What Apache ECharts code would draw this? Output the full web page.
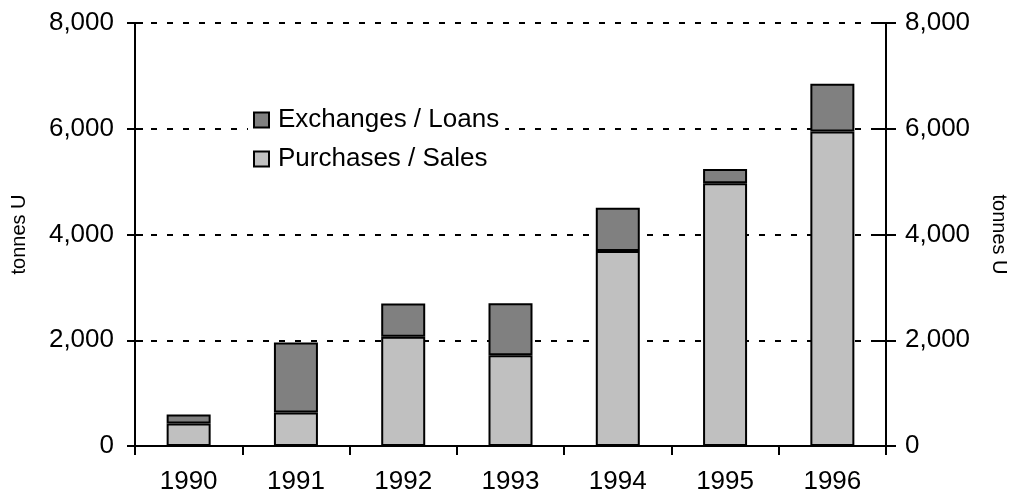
<!DOCTYPE html>
<html>
<head>
<meta charset="utf-8">
<script src="https://cdn.jsdelivr.net/npm/echarts@6/dist/echarts.min.js"></script>
<style>
html,body{margin:0;padding:0;background:#fff;}
#chart{width:1011px;height:495px;}
</style>
</head>
<body>
<div id="chart"></div>
<script>
const years = ['1990','1991','1992','1993','1994','1995','1996'];
const purchasesSales = [424, 633, 2064, 1718, 3687, 4970, 5947];
const exchangesLoans = [171, 1325, 633, 982, 821, 270, 903];
const yTicks = [0, 2000, 4000, 6000, 8000];
const axisTitle = 'tonnes U';

const FONT = '"Liberation Sans", Arial, sans-serif';
const fmt = v => v.toLocaleString('en-US');
const yMin = yTicks[0], yMax = yTicks[yTicks.length - 1], yStep = yTicks[1] - yTicks[0];

const chart = echarts.init(document.getElementById('chart'), null, {renderer: 'canvas'});
const baseY = {
  type: 'value', min: yMin, max: yMax, interval: yStep
};
chart.setOption({
  animation: false,
  backgroundColor: '#fff',
  textStyle: {fontFamily: FONT},
  grid: {left: 135, right: 125, top: 23, bottom: 49, containLabel: false, outerBoundsMode: 'none'},
  legend: {
    orient: 'vertical',
    left: 248, top: 103,
    data: ['Exchanges / Loans', 'Purchases / Sales'],
    itemWidth: 15, itemHeight: 15, itemGap: 13,
    icon: 'rect',
    backgroundColor: '#fff',
    padding: [4, 6, 4, 5],
    textStyle: {fontFamily: FONT, fontSize: 26, color: '#000', padding: [0, 0, 0, 4]},
    itemStyle: {borderColor: '#000', borderWidth: 2}
  },
  xAxis: {
    type: 'category',
    data: years,
    boundaryGap: true,
    axisLine: {lineStyle: {color: '#000', width: 2}},
    axisTick: {show: true, length: 9, lineStyle: {color: '#000', width: 2}},
    axisLabel: {fontFamily: FONT, fontSize: 26, color: '#000', margin: 23}
  },
  yAxis: [
    Object.assign({}, baseY, {
      position: 'left',
      name: axisTitle, nameLocation: 'middle', nameGap: 106, nameRotate: 90,
      nameTextStyle: {fontFamily: FONT, fontSize: 20, color: '#000'},
      axisLine: {show: true, lineStyle: {color: '#000', width: 2}},
      axisTick: {show: true, length: 8, lineStyle: {color: '#000', width: 2}},
      axisLabel: {fontFamily: FONT, fontSize: 26, color: '#000', margin: 21, formatter: fmt},
      splitLine: {show: true, lineStyle: {color: '#000', width: 2, type: [6, 10]}}
    }),
    Object.assign({}, baseY, {
      position: 'right',
      name: axisTitle, nameLocation: 'middle', nameGap: 103, nameRotate: -90,
      nameTextStyle: {fontFamily: FONT, fontSize: 20, color: '#000'},
      axisLine: {show: true, lineStyle: {color: '#000', width: 2}},
      axisTick: {show: true, length: 10, lineStyle: {color: '#000', width: 2}},
      axisLabel: {fontFamily: FONT, fontSize: 26, color: '#000', margin: 19, formatter: fmt},
      splitLine: {show: false}
    }),
    Object.assign({}, baseY, {
      position: 'left',
      axisLine: {show: false},
      axisTick: {show: true, inside: true, length: 8, lineStyle: {color: '#000', width: 2}},
      axisLabel: {show: false},
      splitLine: {show: false}
    }),
    Object.assign({}, baseY, {
      position: 'right',
      axisLine: {show: false},
      axisTick: {show: true, inside: true, length: 14, lineStyle: {color: '#000', width: 2}},
      axisLabel: {show: false},
      splitLine: {show: false}
    })
  ],
  series: [
    {
      name: 'Purchases / Sales', type: 'bar', stack: 'total', yAxisIndex: 0,
      data: purchasesSales, barWidth: 44,
      itemStyle: {color: '#c0c0c0', borderColor: '#000', borderWidth: 2}
    },
    {
      name: 'Exchanges / Loans', type: 'bar', stack: 'total', yAxisIndex: 0,
      data: exchangesLoans, barWidth: 44,
      itemStyle: {color: '#808080', borderColor: '#000', borderWidth: 2}
    }
  ]
});
</script>
</body>
</html>
